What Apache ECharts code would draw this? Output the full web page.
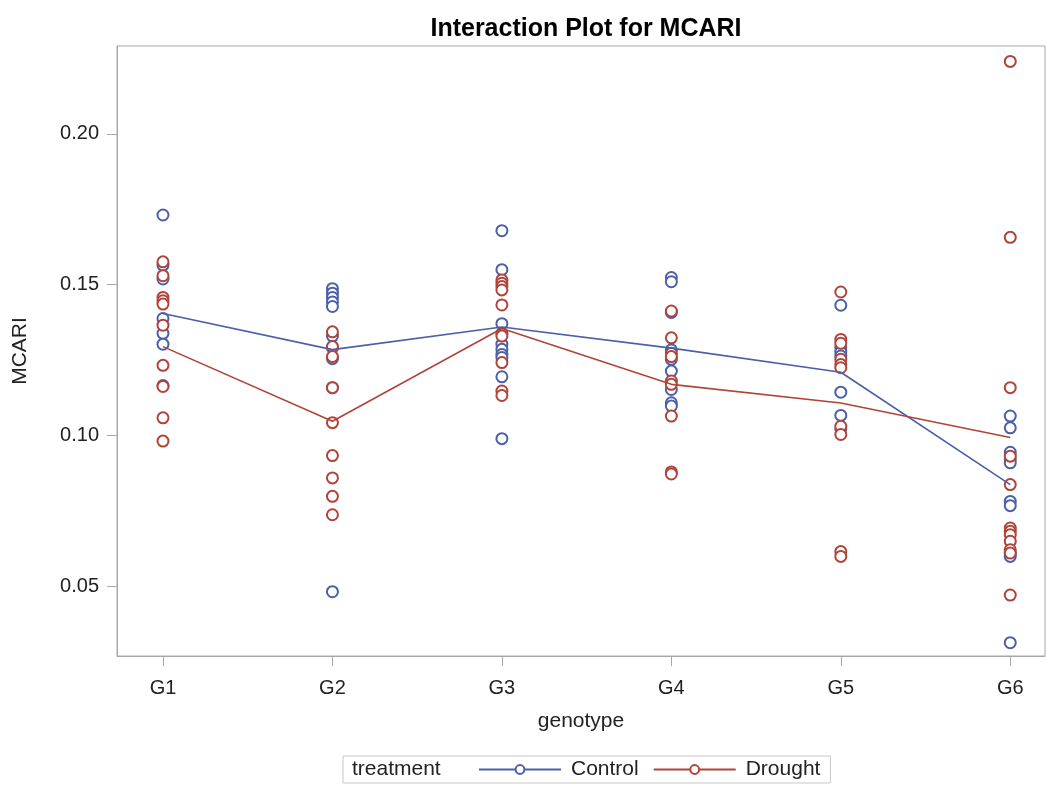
<!DOCTYPE html>
<html>
<head>
<meta charset="utf-8">
<title>Interaction Plot for MCARI</title>
<script src="https://cdn.jsdelivr.net/npm/echarts@6/dist/echarts.min.js"></script>
<style>
  html, body { margin: 0; padding: 0; background: #fff; }
  #chart { width: 1047px; height: 785px; }
</style>
</head>
<body>
<div id="chart"></div>
<script>
// Genotype categories along the x axis
const genotypes = ['G1', 'G2', 'G3', 'G4', 'G5', 'G6'];

// Y-axis tick values
const yTicks = [0.05, 0.10, 0.15, 0.20];

// Individual MCARI observations, one list per genotype (Control)
const controlG1 = [0.1731, 0.1565, 0.1519, 0.1388, 0.1339, 0.1303, 0.1166];
const controlG2 = [0.1487, 0.1472, 0.1458, 0.1443, 0.1428, 0.1330, 0.1292, 0.1255, 0.1159, 0.0483];
const controlG3 = [0.1679, 0.1550, 0.1371, 0.1303, 0.1286, 0.1269, 0.1259, 0.1195, 0.0990];
const controlG4 = [0.1524, 0.1510, 0.1408, 0.1284, 0.1253, 0.1214, 0.1153, 0.1109, 0.1098];
const controlG5 = [0.1432, 0.1292, 0.1277, 0.1264, 0.1144, 0.1067, 0.1023];
const controlG6 = [0.1065, 0.1026, 0.0945, 0.0921, 0.0910, 0.0782, 0.0768, 0.0608, 0.0600, 0.0314];

// Individual MCARI observations, one list per genotype (Drought)
const droughtG1 = [0.1576, 0.1530, 0.1458, 0.1447, 0.1436, 0.1366, 0.1233, 0.1163, 0.1059, 0.0982];
const droughtG2 = [0.1344, 0.1295, 0.1262, 0.1159, 0.1043, 0.0934, 0.0860, 0.0799, 0.0738];
const droughtG3 = [0.1516, 0.1505, 0.1494, 0.1483, 0.1433, 0.1339, 0.1330, 0.1242, 0.1148, 0.1133];
const droughtG4 = [0.1413, 0.1324, 0.1273, 0.1262, 0.1181, 0.1170, 0.1065, 0.0880, 0.0873];
const droughtG5 = [0.1476, 0.1319, 0.1306, 0.1253, 0.1236, 0.1225, 0.1031, 0.1004, 0.0616, 0.0600];
const droughtG6 = [0.2240, 0.1657, 0.1159, 0.0932, 0.0838, 0.0694, 0.0683, 0.0672, 0.0650, 0.0622, 0.0611, 0.0472];

// Group means connecting the genotypes
const controlMean = [0.1405, 0.1285, 0.1360, 0.1290, 0.1210, 0.0838];
const droughtMean = [0.1295, 0.1048, 0.1355, 0.1170, 0.1108, 0.0994];

const controlGroups = [controlG1, controlG2, controlG3, controlG4, controlG5, controlG6];
const droughtGroups = [droughtG1, droughtG2, droughtG3, droughtG4, droughtG5, droughtG6];

const BLUE = '#4c5fa9';
const RED = '#b0443a';
const AXIS_GRAY = '#a8a8a8';
const TEXT = '#222';
const FONT = '"Liberation Sans", Arial, sans-serif';

// Genotype i sits at x = i + 1 on a numeric axis
function toPoints(groups) {
  const out = [];
  groups.forEach((vals, i) => vals.forEach(v => out.push([i + 1, v])));
  return out;
}
function toLine(means) {
  return means.map((v, i) => [i + 1, v]);
}

const chart = echarts.init(document.getElementById('chart'), null, { renderer: 'canvas' });

function meanLine(name, means, color) {
  return {
    name: name,
    type: 'line',
    data: toLine(means),
    symbol: 'emptyCircle',
    symbolSize: 9,
    showSymbol: false,
    lineStyle: { color: color, width: 1.6 },
    itemStyle: { color: color, borderColor: color, borderWidth: 1.6 },
    z: 4
  };
}

function obsScatter(name, groups, color) {
  return {
    name: name,
    type: 'scatter',
    data: toPoints(groups),
    symbol: 'emptyCircle',
    symbolSize: 11,
    itemStyle: { color: color, borderColor: color, borderWidth: 1.6, opacity: 1 },
    z: 3
  };
}

chart.setOption({
  animation: false,
  backgroundColor: '#fff',
  textStyle: { fontFamily: FONT },
  title: {
    text: 'Interaction Plot for MCARI',
    left: 581,
    top: 12,
    textAlign: 'center',
    textStyle: { fontFamily: FONT, fontSize: 25, fontWeight: 'bold', color: '#000' }
  },
  grid: {
    left: 117, right: 2, top: 46, bottom: 129,
    show: true, borderColor: AXIS_GRAY, borderWidth: 1,
    containLabel: false, outerBoundsMode: 'none'
  },
  xAxis: {
    type: 'value',
    min: 0.7286,
    max: 6.205,
    name: 'genotype',
    nameLocation: 'middle',
    nameGap: 55,
    nameTextStyle: { fontFamily: FONT, fontSize: 21, color: TEXT },
    axisLine: { show: true, lineStyle: { color: AXIS_GRAY, width: 1 } },
    axisTick: { show: true, length: 10, lineStyle: { color: AXIS_GRAY }, customValues: genotypes.map((g, i) => i + 1) },
    axisLabel: {
      customValues: genotypes.map((g, i) => i + 1),
      formatter: (v) => genotypes[Math.round(v) - 1] || '',
      fontFamily: FONT, fontSize: 20, color: TEXT, margin: 22
    },
    splitLine: { show: false }
  },
  yAxis: {
    type: 'value',
    min: 0.027,
    max: 0.2291,
    name: 'MCARI',
    nameLocation: 'middle',
    nameGap: 86,
    nameRotate: 90,
    nameTextStyle: { fontFamily: FONT, fontSize: 21, color: TEXT },
    axisLine: { show: true, lineStyle: { color: AXIS_GRAY, width: 1 } },
    axisTick: { show: true, length: 10, lineStyle: { color: AXIS_GRAY }, customValues: yTicks },
    axisLabel: {
      customValues: yTicks,
      formatter: (v) => v.toFixed(2),
      fontFamily: FONT, fontSize: 20, color: TEXT, margin: 18
    },
    splitLine: { show: false }
  },
  legend: {
    left: 343,
    top: 756,
    padding: [3, 10, 3, 135],
    itemGap: 14,
    itemWidth: 82,
    itemHeight: 11,
    borderColor: '#c8c8c8',
    borderWidth: 1,
    data: ['Control', 'Drought'],
    textStyle: { fontFamily: FONT, fontSize: 21, color: TEXT, padding: [0, 0, 0, 5] },
    selectedMode: false
  },
  graphic: [{
    type: 'text',
    left: 352,
    top: 759,
    style: { text: 'treatment', fontFamily: FONT, fontSize: 21, fill: TEXT }
  }],
  series: [
    meanLine('Control', controlMean, BLUE),
    meanLine('Drought', droughtMean, RED),
    obsScatter('Control', controlGroups, BLUE),
    obsScatter('Drought', droughtGroups, RED)
  ]
});
</script>
</body>
</html>
